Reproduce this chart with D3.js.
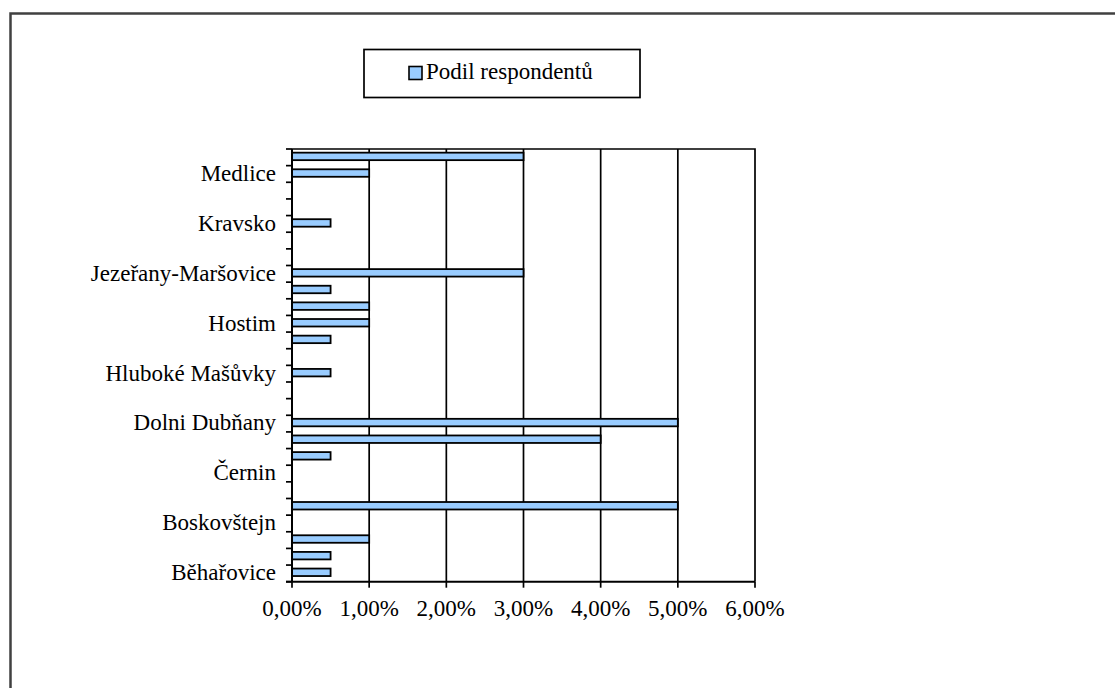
<!DOCTYPE html>
<html>
<head>
<meta charset="utf-8">
<script src="https://cdn.jsdelivr.net/npm/d3@7"></script>
<style>
  body { margin: 0; background: #fff; }
  text { font-family: "Liberation Serif", "DejaVu Serif", serif; }
</style>
</head>
<body>
<svg id="chart" width="1115" height="688"></svg>
<script>
"use strict";

// Catégories de bas en haut (Excel n'affiche qu'une étiquette sur trois)
var categories = [
  "Běhařovice", "", "", "Boskovštejn", "", "", "Černin", "", "",
  "Dolni Dubňany", "", "", "Hluboké Mašůvky", "", "", "Hostim", "", "",
  "Jezeřany-Maršovice", "", "", "Kravsko", "", "", "Medlice", ""
];

// Podíl respondentů (%)
var values = [
  0.5, 0.5, 1, 0, 5, 0, 0, 0.5, 4,
  5, 0, 0, 0.5, 0, 0.5, 1, 1, 0.5,
  3, 0, 0, 0.5, 0, 0, 1, 3
];

var xTicks = [0, 1, 2, 3, 4, 5, 6];
var seriesName = "Podil respondentů";

var svg = d3.select("#chart");

var plotLeft = 292, plotRight = 755, plotTop = 149, plotBottom = 581.7;
var fontSize = "23px";

var x = d3.scaleLinear().domain([0, 6]).range([plotLeft, plotRight]);

var idx = d3.range(categories.length);
var y = d3.scaleBand()
  .domain(idx)
  .range([plotBottom, plotTop])
  .paddingInner(0.55)
  .paddingOuter(0.28);

// cadre extérieur
svg.append("rect")
  .attr("x", 10.5)
  .attr("y", 13.5)
  .attr("width", 1200)
  .attr("height", 800)
  .attr("fill", "none")
  .attr("stroke", "#404040")
  .attr("stroke-width", 2.5);

// quadrillage vertical
svg.append("g")
  .selectAll("line")
  .data(xTicks.slice(1, -1))
  .enter()
  .append("line")
  .attr("x1", function (d) { return x(d); })
  .attr("x2", function (d) { return x(d); })
  .attr("y1", plotTop)
  .attr("y2", plotBottom)
  .attr("stroke", "#000")
  .attr("stroke-width", 1.7);

// bordure de la zone de traçage (haut et droite)
svg.append("path")
  .attr("d", "M" + plotLeft + "," + plotTop + "H" + plotRight + "V" + plotBottom)
  .attr("fill", "none")
  .attr("stroke", "#000")
  .attr("stroke-width", 1.7);

// barres
svg.append("g")
  .selectAll("rect")
  .data(idx.filter(function (i) { return values[i] > 0; }))
  .enter()
  .append("rect")
  .attr("x", x(0))
  .attr("y", function (i) { return y(i) - 1; })
  .attr("width", function (i) { return x(values[i]) - x(0); })
  .attr("height", y.bandwidth())
  .attr("fill", "#99ccff")
  .attr("stroke", "#000")
  .attr("stroke-width", 1.8);

// axe Y : trait, graduations entre les catégories
var yAxis = svg.append("g");
yAxis.append("line")
  .attr("x1", plotLeft).attr("x2", plotLeft)
  .attr("y1", plotTop).attr("y2", plotBottom)
  .attr("stroke", "#000")
  .attr("stroke-width", 2);
yAxis.selectAll("line.tick")
  .data(d3.range(categories.length + 1))
  .enter()
  .append("line")
  .attr("class", "tick")
  .attr("x1", plotLeft - 6).attr("x2", plotLeft)
  .attr("y1", function (i) { return plotBottom - i * (plotBottom - plotTop) / categories.length; })
  .attr("y2", function (i) { return plotBottom - i * (plotBottom - plotTop) / categories.length; })
  .attr("stroke", "#000")
  .attr("stroke-width", 1.7);
yAxis.selectAll("text")
  .data(idx.filter(function (i) { return categories[i] !== ""; }))
  .enter()
  .append("text")
  .attr("x", 276)
  .attr("y", function (i) { return y(i) + y.bandwidth() / 2; })
  .attr("dy", "0.3em")
  .attr("text-anchor", "end")
  .style("font-size", fontSize)
  .text(function (i) { return categories[i]; });

// axe X
var xAxis = svg.append("g");
xAxis.append("line")
  .attr("x1", plotLeft - 6).attr("x2", plotRight)
  .attr("y1", plotBottom).attr("y2", plotBottom)
  .attr("stroke", "#000")
  .attr("stroke-width", 2);
xAxis.selectAll("line.tick")
  .data(xTicks)
  .enter()
  .append("line")
  .attr("class", "tick")
  .attr("x1", function (d) { return x(d); })
  .attr("x2", function (d) { return x(d); })
  .attr("y1", plotBottom)
  .attr("y2", plotBottom + 6)
  .attr("stroke", "#000")
  .attr("stroke-width", 1.7);
xAxis.selectAll("text")
  .data(xTicks)
  .enter()
  .append("text")
  .attr("x", function (d) { return x(d); })
  .attr("y", 616)
  .attr("text-anchor", "middle")
  .style("font-size", fontSize)
  .text(function (d) { return d.toFixed(2).replace(".", ",") + "%"; });

// légende
var legend = svg.append("g");
legend.append("rect")
  .attr("x", 364).attr("y", 49.5)
  .attr("width", 276).attr("height", 48)
  .attr("fill", "#fff")
  .attr("stroke", "#000")
  .attr("stroke-width", 1.7);
legend.append("rect")
  .attr("x", 409).attr("y", 66.5)
  .attr("width", 13).attr("height", 13)
  .attr("fill", "#99ccff")
  .attr("stroke", "#000")
  .attr("stroke-width", 1.6);
legend.append("text")
  .attr("x", 426).attr("y", 79)
  .style("font-size", fontSize)
  .text(seriesName);
</script>
</body>
</html>
